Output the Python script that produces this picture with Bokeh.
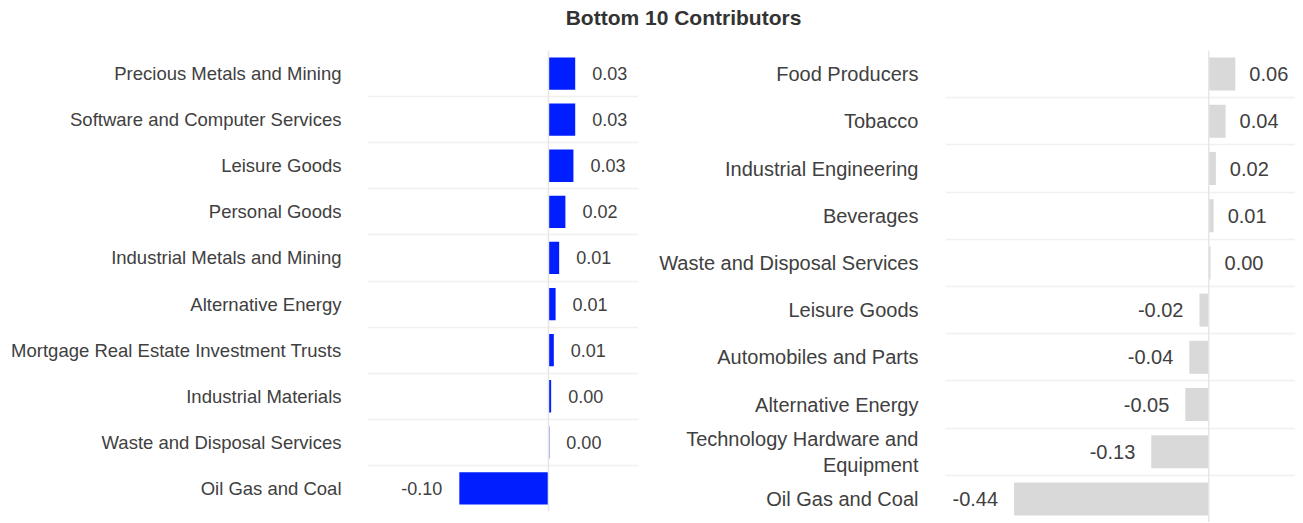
from bokeh.plotting import figure
from bokeh.layouts import column, row
from bokeh.models import ColumnDataSource, Range1d, FactorRange, FixedTicker, Span
from bokeh.core.properties import value
from bokeh.embed import file_html
from bokeh.resources import INLINE

title_text = "Bottom 10 Contributors"

left_cats = ["Precious Metals and Mining", "Software and Computer Services", "Leisure Goods",
             "Personal Goods", "Industrial Metals and Mining", "Alternative Energy",
             "Mortgage Real Estate Investment Trusts", "Industrial Materials",
             "Waste and Disposal Services", "Oil Gas and Coal"]
left_vals = [0.030, 0.030, 0.028, 0.019, 0.012, 0.008, 0.006, 0.003, 0.001, -0.100]

right_cats = ["Food Producers", "Tobacco", "Industrial Engineering", "Beverages",
              "Waste and Disposal Services", "Leisure Goods", "Automobiles and Parts",
              "Alternative Energy", "Technology Hardware and\nEquipment", "Oil Gas and Coal"]
right_vals = [0.060, 0.038, 0.016, 0.011, 0.004, -0.021, -0.044, -0.053, -0.130, -0.440]

FONT = "Liberation Sans"
TXT = "#404040"


def panel(cats, vals, color, xr, fw, fh, bl, br, bt, bb, cat_size, val_size, pos_off, neg_off,
          standoff):
    src = ColumnDataSource(dict(
        cat=cats, val=vals,
        label=["{:.2f}".format(v) for v in vals],
        align=["left" if v >= 0 else "right" for v in vals],
        xoff=[pos_off if v >= 0 else -neg_off for v in vals],
    ))
    p = figure(y_range=FactorRange(factors=list(reversed(cats))), x_range=Range1d(*xr),
               frame_width=fw, frame_height=fh, min_border_left=bl, min_border_right=br,
               min_border_top=bt, min_border_bottom=bb, x_axis_location=None,
               output_backend="svg", toolbar_location=None)
    p.hbar(y="cat", right="val", left=0, height=0.7, source=src,
           fill_color=color, line_color=None)
    p.text(x="val", y="cat", text="label", source=src, text_align="align", x_offset="xoff",
           text_baseline="middle", text_font=value(FONT), text_font_size=val_size,
           text_color=TXT)
    p.add_layout(Span(location=0, dimension="height", line_color="#e6e6e6", line_width=1.5))
    p.ygrid.ticker = FixedTicker(ticks=list(range(len(cats) + 1)))
    p.ygrid.grid_line_color = "#f0f0f0"
    p.ygrid.grid_line_width = 1.5
    p.xgrid.visible = False
    ax = p.yaxis[0]
    ax.axis_line_color = None
    ax.major_tick_line_color = None
    ax.minor_tick_line_color = None
    ax.major_tick_out = 0
    ax.major_label_standoff = standoff
    ax.major_label_text_font = FONT
    ax.major_label_text_font_size = cat_size
    ax.major_label_text_color = TXT
    p.outline_line_color = None
    p.background_fill_color = "white"
    p.border_fill_color = "white"
    return p


p1 = panel(left_cats, left_vals, "#001eff", (-0.203, 0.101), 271, 461, 367, 10, 5, 5,
           "18.5px", "18px", 17, 17, 26)
p2 = panel(right_cats, right_vals, "#d9d9d9", (-0.595, 0.196), 350, 472, 297, 0, 6, 0,
           "20px", "20px", 14, 16, 27)

head = figure(width=1295, height=44, x_range=Range1d(0, 1295), y_range=Range1d(0, 44),
              min_border=0, x_axis_location=None, y_axis_location=None,
              output_backend="svg", toolbar_location=None)
head.text(x=[683], y=[27], text=[title_text], text_align="center", text_baseline="middle",
          text_font=value(FONT), text_font_size="21px", text_font_style="bold",
          text_color="#333333")
head.grid.visible = False
head.outline_line_color = None

layout = column(head, row(p1, p2, spacing=0), spacing=0)
open("out.html", "w").write(file_html(layout, INLINE))
